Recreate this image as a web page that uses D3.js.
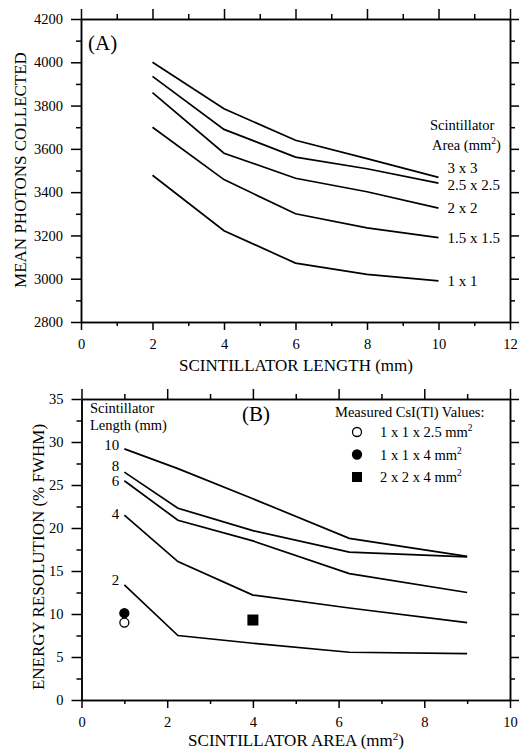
<!DOCTYPE html>
<meta charset="utf-8">
<style>
  body { margin: 0; background: #fff; }
  svg { font-family: 'Liberation Serif', 'DejaVu Serif', serif; }
  .axis path, .axis line { stroke: #000; stroke-width: 1.5; }
  .axis text { font-size: 14.5px; fill: #000; font-family: 'Liberation Serif', serif; }
  .curve { fill: none; stroke: #000; stroke-width: 1.7; }
  .title { font-size: 17px; }
  .note { font-size: 14.5px; }
  .lab { font-size: 15px; }
</style>
<body></body>
<script src="https://cdn.jsdelivr.net/npm/d3@7"></script>
<script>
  // panel A: mean photons vs scintillator length
  const lengths = [2, 4, 6, 8, 10];
  const areaNames = ['3 x 3', '2.5 x 2.5', '2 x 2', '1.5 x 1.5', '1 x 1'];
  const photons3x3 = [4000, 3785, 3640, 3555, 3468];
  const photons25 = [3935, 3690, 3562, 3508, 3442];
  const photons2x2 = [3860, 3580, 3464, 3402, 3326];
  const photons15 = [3700, 3458, 3300, 3235, 3190];
  const photons1x1 = [3478, 3222, 3072, 3020, 2990];
  const photonSeries = [photons3x3, photons25, photons2x2, photons15, photons1x1];

  // panel B: energy resolution vs scintillator area
  const areas = [1, 2.25, 4, 6.25, 9];
  const lengthNames = ['10', '8', '6', '4', '2'];
  const res10 = [29.2, 26.9, 23.4, 18.8, 16.7];
  const res8 = [26.5, 22.3, 19.7, 17.2, 16.65];
  const res6 = [25.5, 20.9, 18.5, 14.7, 12.5];
  const res4 = [21.5, 16.1, 12.2, 10.7, 9.0];
  const res2 = [13.4, 7.5, 6.6, 5.55, 5.4];
  const resSeries = [res10, res8, res6, res4, res2];

  const measuredNames = ['1 x 1 x 2.5 mm', '1 x 1 x 4 mm', '2 x 2 x 4 mm'];
  const measuredArea = [1, 1, 4];
  const measuredRes = [9.0, 10.1, 9.3];
  const measuredShape = ['open', 'filled', 'square'];

  const svg = d3.select('body').append('svg')
    .attr('width', 520).attr('height', 750);

  function frame(xs, ys, xMinor, yMinor, xMajor, yMajor) {
    const [x0, x1] = xs.range(), [y0, y1] = ys.range();
    const g = svg.append('g');
    const ax = (gen, tx, ty, vals, size, pad, labels) => g.append('g')
      .attr('class', 'axis')
      .attr('transform', `translate(${tx},${ty})`)
      .call(gen.tickValues(vals).tickSize(size).tickSizeOuter(0).tickPadding(pad)
        .tickFormat(labels ? d3.format('d') : ''));
    // bottom
    ax(d3.axisBottom(xs), 0, y0, xMinor, 4, 3, false);
    ax(d3.axisBottom(xs), 0, y0, xMajor, 8, 9, true);
    // top
    ax(d3.axisTop(xs), 0, y1, xMinor, 5, 3, false);
    ax(d3.axisTop(xs), 0, y1, xMajor, 10, 3, false);
    // left
    ax(d3.axisLeft(ys), x0, 0, yMinor, 5, 3, false);
    ax(d3.axisLeft(ys), x0, 0, yMajor, 10, 8, true);
    // right
    ax(d3.axisRight(ys), x1, 0, yMinor, 5, 3, false);
    ax(d3.axisRight(ys), x1, 0, yMajor, 9, 3, false);
    return g;
  }

  // ---------- panel A ----------
  const xA = d3.scaleLinear().domain([0, 12]).range([81, 510]);
  const yA = d3.scaleLinear().domain([2800, 4200]).range([322, 19]);
  frame(xA, yA, d3.range(1, 12, 2), d3.range(2900, 4200, 200),
    d3.range(0, 13, 2), d3.range(2800, 4201, 200));

  const lineA = d3.line().x((d, i) => xA(lengths[i])).y(d => yA(d));
  svg.append('g').selectAll('path').data(photonSeries).join('path')
    .attr('class', 'curve').attr('d', lineA);

  svg.append('g').selectAll('text').data(photonSeries).join('text')
    .attr('class', 'lab')
    .attr('x', xA(lengths[lengths.length - 1]) + 9)
    .attr('y', (d, i) => yA(d[d.length - 1]) + [-4, 7, 5, 5, 5][i])
    .text((d, i) => areaNames[i]);

  svg.append('text').attr('class', 'note').attr('x', 430).attr('y', 130).text('Scintillator');
  const areaHead = svg.append('text').attr('class', 'note').attr('x', 432).attr('y', 150);
  areaHead.append('tspan').text('Area (mm');
  areaHead.append('tspan').attr('dy', -6).attr('font-size', '9.5px').text('2');
  areaHead.append('tspan').attr('dy', 6).text(')');

  svg.append('text').attr('x', 88).attr('y', 50).attr('font-size', '21px').text('(A)');
  svg.append('text').attr('class', 'title').attr('x', 296).attr('y', 371)
    .attr('text-anchor', 'middle').text('SCINTILLATOR LENGTH (mm)');
  svg.append('text').attr('class', 'title')
    .attr('transform', 'translate(26,170) rotate(-90)')
    .attr('text-anchor', 'middle').text('MEAN PHOTONS COLLECTED');

  // ---------- panel B ----------
  const xB = d3.scaleLinear().domain([0, 10]).range([81.5, 510]);
  const yB = d3.scaleLinear().domain([0, 35]).range([700, 399]);
  frame(xB, yB, d3.range(1, 10, 2), d3.range(2.5, 35, 5),
    d3.range(0, 11, 2), d3.range(0, 36, 5));

  const lineB = d3.line().x((d, i) => xB(areas[i])).y(d => yB(d));
  svg.append('g').selectAll('path').data(resSeries).join('path')
    .attr('class', 'curve').attr('d', lineB);

  svg.append('g').selectAll('text').data(resSeries).join('text')
    .attr('class', 'lab')
    .attr('text-anchor', 'end')
    .attr('x', xB(areas[0]) - 5)
    .attr('y', (d, i) => yB(d[0]) + [1, -1, 5, 4, 0][i])
    .text((d, i) => lengthNames[i]);

  svg.append('text').attr('class', 'note').attr('x', 90).attr('y', 413).text('Scintillator');
  svg.append('text').attr('class', 'note').attr('x', 90).attr('y', 430).text('Length (mm)');
  svg.append('text').attr('x', 242).attr('y', 421).attr('font-size', '21px').text('(B)');

  // measured points
  const pts = svg.append('g');
  measuredRes.forEach((v, i) => {
    const cx = xB(measuredArea[i]), cy = yB(v);
    if (measuredShape[i] === 'square') {
      pts.append('rect').attr('x', cx - 5.5).attr('y', cy - 5.5)
        .attr('width', 11).attr('height', 11).attr('fill', '#000');
    } else {
      pts.append('circle').attr('cx', cx).attr('cy', cy).attr('r', 4.5)
        .attr('fill', measuredShape[i] === 'open' ? '#fff' : '#000')
        .attr('stroke', '#000').attr('stroke-width', 1.3);
    }
  });

  // legend
  svg.append('text').attr('class', 'note').attr('x', 335).attr('y', 417)
    .text('Measured CsI(Tl) Values:');
  const leg = svg.append('g');
  measuredNames.forEach((name, i) => {
    const ly = 432 + i * 22.5;
    if (measuredShape[i] === 'square') {
      leg.append('rect').attr('x', 352).attr('y', ly - 5)
        .attr('width', 10).attr('height', 10).attr('fill', '#000');
    } else {
      leg.append('circle').attr('cx', 357).attr('cy', ly).attr('r', 4.5)
        .attr('fill', measuredShape[i] === 'open' ? '#fff' : '#000')
        .attr('stroke', '#000').attr('stroke-width', 1.3);
    }
    const t = leg.append('text').attr('class', 'note').attr('x', 380).attr('y', ly + 5);
    t.append('tspan').text(name);
    t.append('tspan').attr('dy', -6).attr('font-size', '9.5px').text('2');
  });

  svg.append('text').attr('class', 'title').attr('x', 296).attr('y', 746)
    .attr('text-anchor', 'middle')
    .call(t => {
      t.append('tspan').text('SCINTILLATOR AREA (mm');
      t.append('tspan').attr('dy', -6).attr('font-size', '11px').text('2');
      t.append('tspan').attr('dy', 6).text(')');
    });
  svg.append('text').attr('class', 'title')
    .attr('transform', 'translate(44,557) rotate(-90)')
    .attr('text-anchor', 'middle').text('ENERGY RESOLUTION (% FWHM)');
</script>
